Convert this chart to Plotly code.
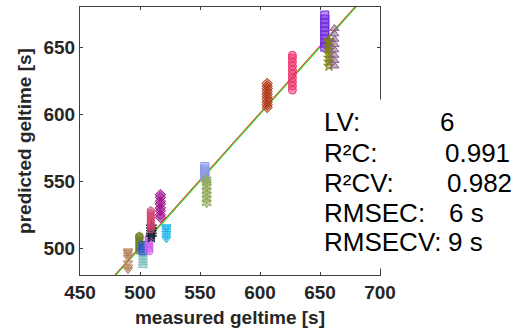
import plotly.graph_objects as go

# ---- data -------------------------------------------------------------
measured = [490, 499.5, 502.5, 502.5, 507.5, 509.5, 509, 517, 522, 554, 555.5, 606, 627, 654, 657.5, 662]
predicted = [
    [484, 486, 489, 493, 495, 497, 498],
    [498, 500, 502, 504, 506, 508, 509],
    [487, 489, 491, 493, 495, 497, 499],
    [498, 500, 502],
    [498, 500, 502, 504, 506, 508],
    [508, 510, 512, 514, 516],
    [514, 516, 518, 520, 522, 524, 526, 528],
    [523, 525, 528, 530, 533, 535, 538, 540],
    [507, 509, 511, 513, 515, 516],
    [553, 555, 557, 559, 561],
    [534, 537, 540, 543, 546, 549, 551],
    [605, 607, 609, 611, 613, 615, 617, 619, 621, 623],
    [618, 621, 624, 627, 630, 633, 636, 639, 642, 644],
    [650, 653, 656, 659, 662, 665, 668, 671, 674],
    [636, 639, 642, 645, 648, 651, 654, 655],
    [636, 640, 644, 648, 652, 656, 660, 664],
]
symbols = ["triangle-down", "hexagon", "triangle-up", "square", "circle", "star", "pentagon",
           "diamond", "triangle-down", "square", "hexagram", "diamond", "circle", "square",
           "star", "triangle-up"]
colors = ["#b5835a", "#6b7a1f", "#7fc0c0", "#2a5cc8", "#d060f0", "#102830", "#d0406a",
          "#a0108c", "#20b8e8", "#8898e8", "#90a858", "#b03a18", "#f0306c", "#7028e0",
          "#808010", "#886088"]

ident_x = [450, 700]
ident_y = [450, 700]
fit_x = [450, 700]
fit_y = [450.8, 700.8]

stat_labels = ["LV:", "R²C:", "R²CV:", "RMSEC:", "RMSECV:"]
stat_values = ["6", "0.991", "0.982", "6 s", "9 s"]

x_ticks = [450, 500, 550, 600, 650, 700]
y_ticks = [500, 550, 600, 650]


def rgba(h, a):
    h = h.lstrip("#")
    return "rgba(%d,%d,%d,%s)" % (int(h[0:2], 16), int(h[2:4], 16), int(h[4:6], 16), a)


fig = go.Figure()
fig.add_trace(go.Scatter(x=fit_x, y=fit_y, mode="lines", line=dict(color="#ff2020", width=1.2),
                         showlegend=False, hoverinfo="skip"))
fig.add_trace(go.Scatter(x=ident_x, y=ident_y, mode="lines", line=dict(color="#30e030", width=1.2),
                         showlegend=False, hoverinfo="skip"))

for m, ys, s, c in zip(measured, predicted, symbols, colors):
    fig.add_trace(go.Scatter(
        x=[m] * len(ys), y=ys, mode="markers", showlegend=False,
        marker=dict(symbol=s, size=8, color=rgba(c, 0.5), line=dict(color=c, width=1)),
    ))

W, H = 525, 333
L, R, T, B = 80, 380, 7, 275


def px(xp):
    return (xp - L) / (R - L)


def py(yp):
    return (B - yp) / (B - T)


ann = []
# white box covering part of the right frame
ann.append(dict(x=px(372), y=py(184), xref="paper", yref="paper", text=" ", showarrow=False,
                width=44, height=168, bgcolor="white", borderpad=0,
                xanchor="center", yanchor="middle"))
rows_y = [121.5, 152.5, 182.5, 212.5, 241.5]
val_x = [438, 443, 445, 446.5, 445.5]
for lab, val, yy, vx in zip(stat_labels, stat_values, rows_y, val_x):
    ann.append(dict(x=px(322), y=py(yy), xref="paper", yref="paper", text=lab, showarrow=False,
                    xanchor="left", yanchor="middle",
                    font=dict(family="Liberation Sans, Arial", size=26, color="black")))
    ann.append(dict(x=px(vx), y=py(yy), xref="paper", yref="paper", text=val, showarrow=False,
                    xanchor="left", yanchor="middle",
                    font=dict(family="Liberation Sans, Arial", size=26, color="black")))

axis_common = dict(showline=True, linecolor="#404040", linewidth=1, mirror="ticks",
                   ticks="inside", ticklen=3, tickcolor="#404040", showgrid=False, zeroline=False,
                   tickfont=dict(family="Liberation Sans, Arial", size=19, color="#262626"))

fig.update_layout(
    width=W, height=H,
    margin=dict(l=L, r=W - R, t=T, b=H - B, pad=0),
    paper_bgcolor="white", plot_bgcolor="white",
    xaxis=dict(range=[450, 700], tickvals=x_ticks, ticktext=["<b>%d</b>" % v for v in x_ticks],
               title=dict(text="<b>measured geltime [s]</b>", standoff=8,
                          font=dict(family="Liberation Sans, Arial", size=19, color="#262626")),
               **axis_common),
    yaxis=dict(range=[480, 680], tickvals=y_ticks, ticktext=["<b>%d</b>" % v for v in y_ticks],
               title=dict(text="<b>predicted geltime [s]</b>", standoff=6,
                          font=dict(family="Liberation Sans, Arial", size=19, color="#262626")),
               **axis_common),
    annotations=ann,
)

fig.write_html("out.html", config={"displayModeBar": False},
               post_script="document.body.style.margin='0';")
